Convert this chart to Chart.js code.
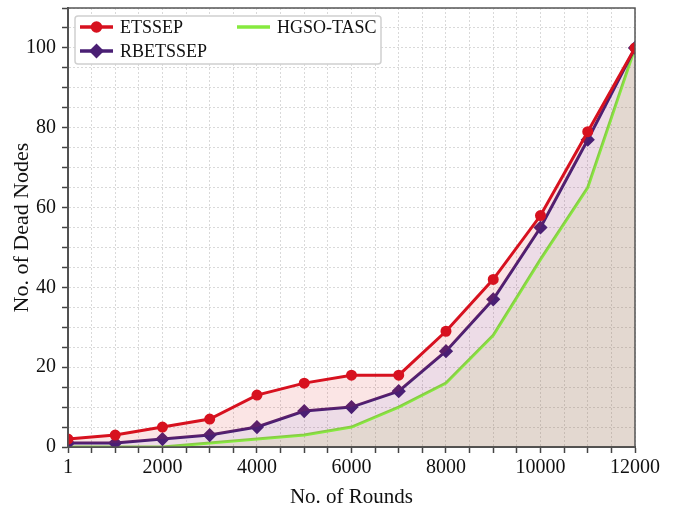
<!DOCTYPE html>
<html>
<head>
<meta charset="utf-8">
<script src="https://cdn.jsdelivr.net/npm/chart.js@4"></script>
<style>
  html, body { margin: 0; padding: 0; background: #fff; }
  #wrap { width: 673px; height: 510px; }
</style>
</head>
<body>
<div id="wrap"><canvas id="myChart" width="673" height="510"></canvas></div>
<script>
// rounds (x) and dead nodes per protocol
const rounds = [1, 1000, 2000, 3000, 4000, 5000, 6000, 7000, 8000, 9000, 10000, 11000, 12000];
const etssep = [2, 3, 5, 7, 13, 16, 18, 18, 29, 42, 58, 79, 100];
const rbetssep = [1, 1, 2, 3, 5, 9, 10, 14, 24, 37, 55, 77, 100];
const hgsoTasc = [0, 0, 0, 1, 2, 3, 5, 10, 16, 28, 47, 65, 100];
const xLabels = [1, 2000, 4000, 6000, 8000, 10000, 12000];
const yLabels = [0, 20, 40, 60, 80, 100];

const serif = "'Liberation Serif', 'DejaVu Serif', serif";

function toPoints(vals) {
  return rounds.map((r, i) => ({ x: r, y: vals[i] }));
}

// frame round the plot area
const frame = {
  id: 'frame',
  afterDraw(chart) {
    const a = chart.chartArea, ctx = chart.ctx;
    ctx.save();
    ctx.strokeStyle = '#555';
    ctx.lineWidth = 1.5;
    ctx.strokeRect(a.left, a.top, a.right - a.left, a.bottom - a.top);
    ctx.restore();
  }
};

// legend box inside the plot (two columns)
const boxLegend = {
  id: 'boxLegend',
  afterDraw(chart) {
    const ctx = chart.ctx;
    const ds = chart.data.datasets;
    ctx.save();
    ctx.fillStyle = '#fff';
    ctx.strokeStyle = '#d0d0d0';
    ctx.lineWidth = 1.5;
    ctx.beginPath();
    ctx.roundRect(75, 16, 306, 48, 3);
    ctx.fill();
    ctx.stroke();

    const items = [
      { d: ds[0], x: 80, y: 27 },
      { d: ds[1], x: 80, y: 51 },
      { d: ds[2], x: 237, y: 27 }
    ];
    items.forEach(it => {
      ctx.strokeStyle = it.d.borderColor;
      ctx.lineWidth = 3.5;
      ctx.beginPath();
      ctx.moveTo(it.x, it.y);
      ctx.lineTo(it.x + 33, it.y);
      ctx.stroke();
      if (it.d.pointRadius > 0) {
        ctx.fillStyle = it.d.pointBackgroundColor;
        ctx.strokeStyle = it.d.borderColor;
        Chart.helpers.drawPoint(ctx, {
          pointStyle: it.d.pointStyle,
          radius: it.d.pointRadius,
          borderWidth: 1,
          rotation: 0
        }, it.x + 16.5, it.y);
      }
      ctx.fillStyle = '#111';
      ctx.font = '18px ' + serif;
      ctx.textBaseline = 'middle';
      ctx.textAlign = 'left';
      ctx.fillText(it.d.label, it.x + 40, it.y + 1);
    });
    ctx.restore();
  }
};

const ctx = document.getElementById('myChart').getContext('2d');
const myChart = new Chart(ctx, {
  type: 'line',
  data: {
    datasets: [
      {
        label: 'ETSSEP',
        data: toPoints(etssep),
        borderColor: '#d7111f',
        backgroundColor: 'rgba(220,40,40,0.12)',
        pointBackgroundColor: '#d7111f',
        pointStyle: 'circle',
        pointRadius: 4,
        borderWidth: 3,
        fill: '+1'
      },
      {
        label: 'RBETSSEP',
        data: toPoints(rbetssep),
        borderColor: '#4a1f74',
        backgroundColor: 'rgba(150,50,110,0.17)',
        pointBackgroundColor: '#4a1f74',
        pointStyle: 'rectRot',
        pointRadius: 5,
        borderWidth: 3,
        fill: '+1'
      },
      {
        label: 'HGSO-TASC',
        data: toPoints(hgsoTasc),
        borderColor: '#86ea3e',
        backgroundColor: 'rgba(150,110,80,0.27)',
        pointBackgroundColor: '#86ea3e',
        pointStyle: 'cross',
        pointRadius: 0,
        borderWidth: 3,
        fill: 'origin'
      }
    ]
  },
  options: {
    responsive: false,
    animation: false,
    layout: { padding: { left: 0, top: 8, right: 38, bottom: 0 } },
    plugins: {
      legend: { display: false },
      tooltip: { enabled: false }
    },
    scales: {
      x: {
        type: 'linear',
        min: 1,
        max: 12000,
        afterBuildTicks(scale) {
          const t = [{ value: 1 }];
          for (let v = 500; v <= 12000; v += 500) t.push({ value: v });
          scale.ticks = t;
        },
        afterFit(scale) { scale.height = 63; },
        ticks: {
          autoSkip: false,
          maxRotation: 0,
          padding: 3,
          color: '#111',
          font: { family: serif, size: 20 },
          callback: v => xLabels.includes(v) ? String(v) : ''
        },
        grid: { color: '#d9d9d9', lineWidth: 1, tickLength: 6, tickColor: '#444', tickWidth: 1.5 },
        border: { display: true, color: '#444', width: 2, dash: [2, 2] },
        title: {
          display: true,
          text: 'No. of Rounds',
          color: '#111',
          font: { family: serif, size: 21 },
          padding: { top: 0, bottom: 0 }
        }
      },
      y: {
        min: 0,
        max: 110,
        afterBuildTicks(scale) {
          const t = [];
          for (let v = 0; v <= 110; v += 5) t.push({ value: v });
          scale.ticks = t;
        },
        afterFit(scale) {
          scale.width = 68;
          scale.paddingTop = 0;
          scale.paddingBottom = 0;
        },
        ticks: {
          autoSkip: false,
          padding: 6,
          color: '#111',
          font: { family: serif, size: 20 },
          callback: v => yLabels.includes(v) ? String(v) : ''
        },
        grid: { color: '#d9d9d9', lineWidth: 1, tickLength: 6, tickColor: '#444', tickWidth: 1.5 },
        border: { display: true, color: '#444', width: 2, dash: [2, 2] },
        title: {
          display: true,
          text: 'No. of Dead Nodes',
          color: '#111',
          font: { family: serif, size: 22 },
          padding: { top: 9, bottom: 0 }
        }
      }
    }
  },
  plugins: [frame, boxLegend]
});
</script>
</body>
</html>
